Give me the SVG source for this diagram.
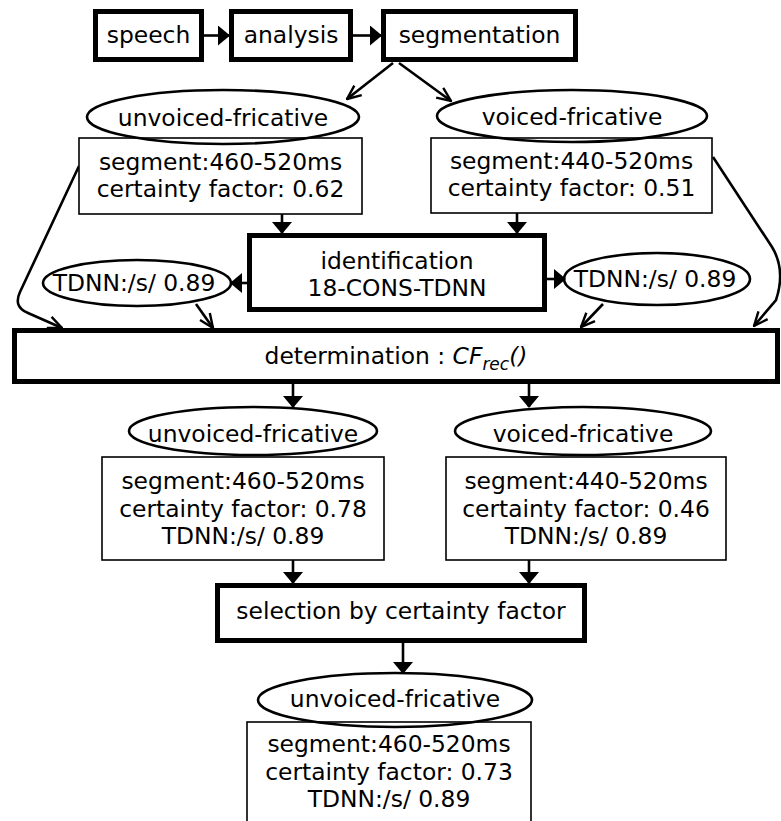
<svg xmlns="http://www.w3.org/2000/svg" width="781" height="821" viewBox="0 0 781 821">
  <style>
    .t { font-family: "DejaVu Sans", "Open Sans", sans-serif; font-size: 23.4px; text-anchor: middle; fill: #000; }
    .thick { fill: #fff; stroke: #000; stroke-width: 5; }
    .info { fill: #fff; stroke: #000; stroke-width: 1.6; }
    .ell { fill: none; stroke: #000; stroke-width: 2.6; }
    .ln { fill: none; stroke: #000; stroke-width: 2.6; }
    .solid { marker-end: url(#tri); }
    .open { marker-end: url(#vee); }
    .it { font-style: italic; }
  </style>
  <defs>
    <marker id="tri" viewBox="0 0 12 20" refX="11" refY="10" markerWidth="12" markerHeight="20" markerUnits="userSpaceOnUse" orient="auto">
      <path d="M0,0 L12,10 L0,20 z" fill="#000"/>
    </marker>
    <marker id="vee" viewBox="-15 -8 16 16" refX="0" refY="0" markerWidth="16" markerHeight="16" markerUnits="userSpaceOnUse" orient="auto">
      <path d="M-14,-6 L0,0 L-14,6" fill="none" stroke="#000" stroke-width="2.4"/>
    </marker>
  </defs>
  <rect width="781" height="821" fill="#fff"/>

  <!-- connectors -->
  <g id="connectors">
    <path class="ln solid" d="M204,35.5 L229,35.5"/>
    <path class="ln solid" d="M353,35.5 L381,35.5"/>
    <path class="ln open" d="M393,63 L347,99"/>
    <path class="ln open" d="M399,63 L451,101"/>
    <path class="ln solid" d="M282,214 L282,233"/>
    <path class="ln solid" d="M517,213 L517,233"/>
    <path class="ln solid" d="M247,283 L231,283"/>
    <path class="ln solid" d="M547,279 L565,279"/>
    <path class="ln open" d="M79,166 L20,292 Q13,307 28,313 L62,328"/>
    <path class="ln open" d="M196,304 L213,328"/>
    <path class="ln open" d="M603,304 L581,327"/>
    <path class="ln open" d="M713,157 L772,247 Q786,270 776,300 L754,326"/>
    <path class="ln solid" d="M293,384 L293,407"/>
    <path class="ln solid" d="M529,384 L529,407"/>
    <path class="ln solid" d="M293,560 L293,583"/>
    <path class="ln solid" d="M529,560 L529,583"/>
    <path class="ln solid" d="M403,643 L403,673"/>
  </g>

  <g id="speech">
    <rect class="thick" x="95.5" y="11.5" width="106" height="48"/>
    <text class="t" x="148.5" y="43">speech</text>
  </g>
  <g id="analysis">
    <rect class="thick" x="231.5" y="11.5" width="119" height="48"/>
    <text class="t" x="291" y="43">analysis</text>
  </g>
  <g id="segmentation">
    <rect class="thick" x="383.5" y="11.5" width="192" height="48"/>
    <text class="t" x="479.5" y="43">segmentation</text>
  </g>

  <g id="unvoiced-1">
    <rect class="info" x="79" y="138" width="283" height="76"/>
    <ellipse class="ell" cx="223" cy="117" rx="136" ry="27"/>
    <text class="t" x="223" y="126">unvoiced-fricative</text>
    <text class="t" x="220.5" y="169.5">segment:460-520ms</text>
    <text class="t" x="220.5" y="197">certainty factor: 0.62</text>
  </g>
  <g id="voiced-1">
    <rect class="info" x="431" y="138" width="281" height="75"/>
    <ellipse class="ell" cx="572" cy="116" rx="135" ry="26"/>
    <text class="t" x="572" y="125">voiced-fricative</text>
    <text class="t" x="571.5" y="168.5">segment:440-520ms</text>
    <text class="t" x="571.5" y="196">certainty factor: 0.51</text>
  </g>

  <g id="identification">
    <rect class="thick" x="249.5" y="235.5" width="295" height="74"/>
    <text class="t" x="397" y="268.5">identification</text>
    <text class="t" x="397" y="296">18-CONS-TDNN</text>
  </g>
  <g id="tdnn-left">
    <ellipse class="ell" cx="137" cy="283" rx="94" ry="23"/>
    <text class="t" x="134" y="291">TDNN:/s/ 0.89</text>
  </g>
  <g id="tdnn-right">
    <ellipse class="ell" cx="657" cy="279" rx="93" ry="26"/>
    <text class="t" x="655" y="287">TDNN:/s/ 0.89</text>
  </g>

  <g id="determination">
    <rect class="thick" x="14.5" y="330.5" width="763" height="51"/>
    <text class="t" x="396" y="364">determination : <tspan class="it">CF</tspan><tspan class="it" font-size="17" dy="6">rec</tspan><tspan class="it" dy="-6">()</tspan></text>
  </g>

  <g id="unvoiced-2">
    <rect class="info" x="102" y="457" width="282" height="103"/>
    <ellipse class="ell" cx="253" cy="431" rx="124" ry="24"/>
    <text class="t" x="253" y="442">unvoiced-fricative</text>
    <text class="t" x="243" y="489">segment:460-520ms</text>
    <text class="t" x="243" y="516.5">certainty factor: 0.78</text>
    <text class="t" x="243" y="544">TDNN:/s/ 0.89</text>
  </g>
  <g id="voiced-2">
    <rect class="info" x="446" y="457" width="280" height="103"/>
    <ellipse class="ell" cx="583" cy="431" rx="128" ry="24"/>
    <text class="t" x="583" y="442">voiced-fricative</text>
    <text class="t" x="586" y="489">segment:440-520ms</text>
    <text class="t" x="586" y="516.5">certainty factor: 0.46</text>
    <text class="t" x="586" y="544">TDNN:/s/ 0.89</text>
  </g>

  <g id="selection">
    <rect class="thick" x="217.5" y="585.5" width="367" height="55"/>
    <text class="t" x="401" y="619">selection by certainty factor</text>
  </g>

  <g id="result">
    <rect class="info" x="247" y="722" width="284" height="110"/>
    <ellipse class="ell" cx="395" cy="700" rx="137" ry="27"/>
    <text class="t" x="395" y="707">unvoiced-fricative</text>
    <text class="t" x="389" y="752">segment:460-520ms</text>
    <text class="t" x="389" y="779.5">certainty factor: 0.73</text>
    <text class="t" x="389" y="807">TDNN:/s/ 0.89</text>
  </g>
</svg>
